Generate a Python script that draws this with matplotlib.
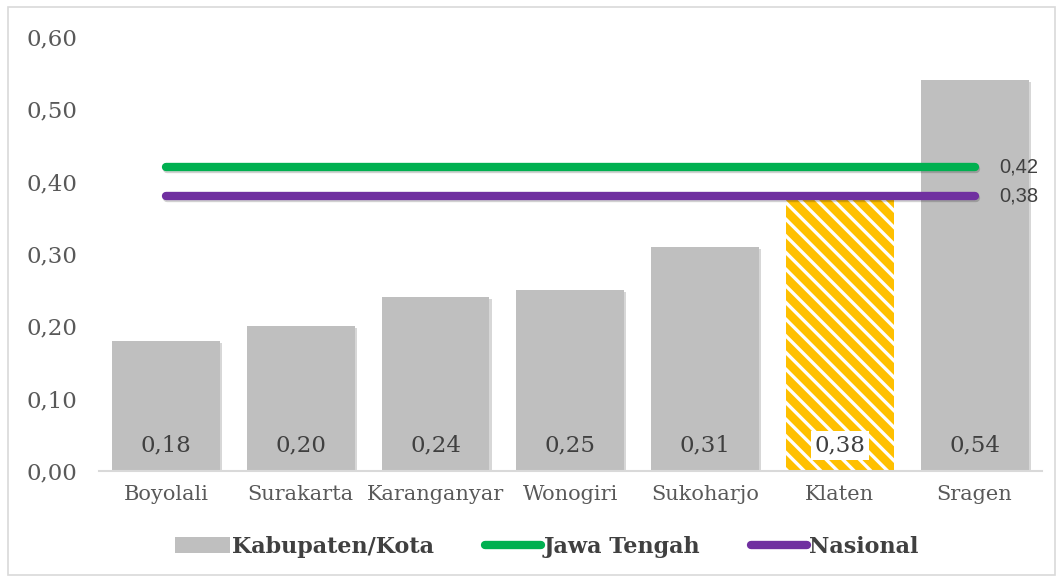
import matplotlib
matplotlib.use("Agg")
import matplotlib.pyplot as plt
from matplotlib.patches import Rectangle, Patch
from matplotlib.lines import Line2D
import matplotlib.patheffects as pe

categories = ["Boyolali", "Surakarta", "Karanganyar", "Wonogiri", "Sukoharjo", "Klaten", "Sragen"]
values = [0.18, 0.20, 0.24, 0.25, 0.31, 0.38, 0.54]
jateng = 0.42
nasional = 0.38
highlight = "Klaten"
yticks = [0.0, 0.1, 0.2, 0.3, 0.4, 0.5, 0.6]
legend_labels = ["Kabupaten/Kota", "Jawa Tengah", "Nasional"]

def fmt(v):
    return f"{v:.2f}".replace(".", ",")

plt.rcParams['hatch.linewidth'] = 2.4
fig = plt.figure(figsize=(10.63, 5.78), dpi=100)
fig.patch.set_facecolor("white")
fig.add_artist(Rectangle((8/1063, 1-575/578), 1047/1063, 568/578, transform=fig.transFigure,
                         fill=False, edgecolor="#D9D9D9", linewidth=1.2))

ax = fig.add_axes([98.6/1063, 1-471/578, (1042-98.6)/1063, (471-37)/578])
x = list(range(len(categories)))
gray = "#BFBFBF"
for i, (c, v) in enumerate(zip(categories, values)):
    if c == highlight:
        ax.bar(i, v, width=0.8, color="#FFC000", edgecolor="white", hatch="\\\\", linewidth=0, zorder=2)
        ax.text(i, 0.035, fmt(v), ha="center", va="center", fontsize=16.5, family="DejaVu Serif",
                color="#404040", zorder=5,
                bbox=dict(boxstyle="square,pad=0.15", facecolor="white", edgecolor="none"))
    else:
        ax.bar(i, v, width=0.8, color=gray, edgecolor="none", zorder=2,
               path_effects=[pe.SimplePatchShadow(offset=(1.5, -1.5), alpha=0.2), pe.Normal()])
        ax.text(i, 0.035, fmt(v), ha="center", va="center", fontsize=16.5, family="DejaVu Serif",
                color="#404040", zorder=5)

shadow = [pe.SimpleLineShadow(offset=(1, -1.5), alpha=0.18), pe.Normal()]
ax.plot([x[0], x[-1]], [jateng, jateng], color="#00B050", lw=6, solid_capstyle="round", zorder=4,
        path_effects=shadow)
ax.plot([x[0], x[-1]], [nasional, nasional], color="#7030A0", lw=6, solid_capstyle="round", zorder=4,
        path_effects=shadow)
ax.text(x[-1] + 0.18, jateng, fmt(jateng), ha="left", va="center", fontsize=14.5,
        family="Liberation Sans", color="#404040", zorder=6)
ax.text(x[-1] + 0.18, nasional, fmt(nasional), ha="left", va="center", fontsize=14.5,
        family="Liberation Sans", color="#404040", zorder=6)

ax.set_xlim(-0.5, len(categories) - 0.5)
ax.set_ylim(0, 0.6)
ax.set_yticks(yticks)
ax.set_yticklabels([fmt(t) for t in yticks], fontsize=16.5, family="DejaVu Serif", color="#595959")
ax.set_xticks(x)
ax.set_xticklabels(categories, fontsize=15, family="DejaVu Serif", color="#595959")
ax.tick_params(axis="both", length=0)
ax.tick_params(axis="y", pad=15.5)
ax.tick_params(axis="x", pad=10)
for s in ["top", "right", "left"]:
    ax.spines[s].set_visible(False)
ax.spines["bottom"].set_color("#D9D9D9")
ax.spines["bottom"].set_linewidth(1.5)

handles = [Patch(facecolor=gray, edgecolor="none"),
           Line2D([0], [0], color="#00B050", lw=6, solid_capstyle="round"),
           Line2D([0], [0], color="#7030A0", lw=6, solid_capstyle="round")]
leg = fig.legend(handles, legend_labels, loc="center", bbox_to_anchor=(0.514, 1-547/578), ncol=3,
                 frameon=False, handlelength=2.5, handletextpad=0.1, columnspacing=2.3,
                 prop=dict(family="DejaVu Serif", weight="bold", size=16))
for t in leg.get_texts():
    t.set_color("#404040")

fig.savefig("out.png", dpi=100, facecolor="white")
